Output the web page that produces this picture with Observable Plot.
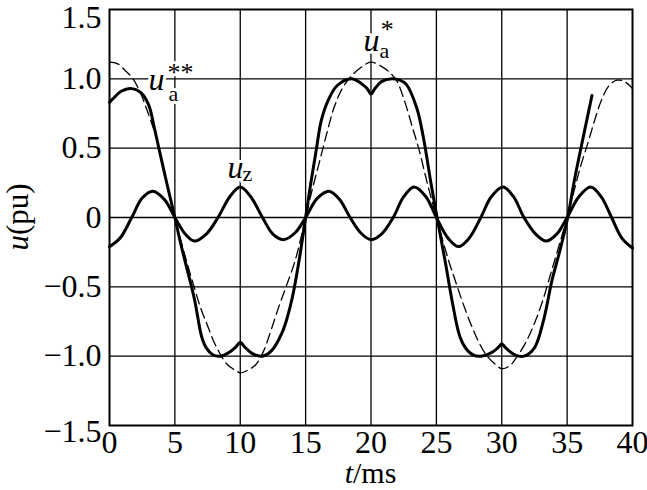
<!DOCTYPE html>
<html><head><meta charset="utf-8">
<script src="https://cdn.jsdelivr.net/npm/d3@7"></script>
<script src="https://cdn.jsdelivr.net/npm/@observablehq/plot@0.6"></script>
<style>body{margin:0;background:#fff}</style>
</head><body><div id="chart"></div>
<script>
// ---- data ----
const xTicks = [0, 5, 10, 15, 20, 25, 30, 35, 40];
const yTicks = [-1.5, -1, -0.5, 0, 0.5, 1, 1.5];
const yTickLabels = ["−1.5", "−1.0", "−0.5", "0", "0.5", "1.0", "1.5"];

// u_a** (solid, thick)
const tA2 = [0, 0.3, 0.9, 1.6, 2.4, 3.0, 3.4, 3.8, 4.4, 5.0, 5.4, 5.9, 6.5, 7.05, 7.4, 7.9, 8.5, 9.2, 9.7, 10.0, 10.3, 10.9, 11.7, 12.4, 13.2, 13.6, 14.0, 14.5, 15.0, 15.4, 15.8, 16.2, 16.7, 17.4, 18.5, 19.2, 19.7, 20.0, 20.3, 20.8, 21.6, 22.2, 22.7, 23.5, 24.0, 24.6, 25.05, 25.7, 26.2, 26.8, 27.3, 27.8, 28.4, 29.3, 29.8, 30.0, 30.3, 31.0, 31.7, 32.5, 33.2, 33.85, 34.5, 35.0, 35.6, 36.3, 36.9];
const uA2 = [0.83, 0.86, 0.91, 0.93, 0.90, 0.81, 0.66, 0.49, 0.24, 0.0, -0.17, -0.36, -0.59, -0.86, -0.94, -0.99, -1.0, -0.97, -0.93, -0.90, -0.93, -0.98, -1.0, -0.96, -0.83, -0.72, -0.57, -0.31, 0.0, 0.25, 0.48, 0.70, 0.84, 0.95, 1.0, 0.97, 0.93, 0.89, 0.93, 0.98, 1.0, 0.99, 0.96, 0.79, 0.58, 0.24, 0.0, -0.33, -0.60, -0.86, -0.95, -0.99, -1.0, -0.97, -0.93, -0.91, -0.94, -0.99, -1.0, -0.94, -0.74, -0.45, -0.22, -0.02, 0.29, 0.61, 0.88];

// u_a* (dashed, thin)
const tA1 = [0, 0.6, 1.2, 1.8, 2.4, 3.0, 3.5, 4.0, 4.5, 5.0, 5.5, 6.0, 6.5, 7.0, 7.5, 8.0, 8.5, 9.0, 9.6, 10.0, 10.6, 11.2, 11.8, 12.4, 13.0, 13.5, 14.2, 15.0, 15.5, 16.0, 16.6, 17.2, 17.8, 18.4, 19.2, 20.0, 20.8, 21.5, 22.0, 22.6, 23.2, 23.7, 24.3, 25.0, 25.5, 26.0, 26.5, 27.0, 27.6, 28.2, 28.8, 29.4, 30.0, 30.6, 31.2, 31.9, 32.6, 33.2, 33.7, 34.2, 35.0, 35.5, 36.0, 36.6, 37.1, 37.6, 38.2, 38.8, 39.4, 40.0];
const uA1 = [1.12, 1.11, 1.06, 1.0, 0.89, 0.74, 0.60, 0.41, 0.20, 0.0, -0.18, -0.35, -0.51, -0.66, -0.78, -0.90, -0.99, -1.06, -1.10, -1.12, -1.10, -1.06, -0.96, -0.80, -0.63, -0.50, -0.31, 0.0, 0.20, 0.38, 0.60, 0.80, 0.93, 1.01, 1.08, 1.12, 1.09, 1.04, 0.98, 0.83, 0.64, 0.48, 0.25, 0.0, -0.17, -0.33, -0.47, -0.61, -0.76, -0.89, -0.99, -1.05, -1.09, -1.07, -1.00, -0.89, -0.74, -0.58, -0.42, -0.26, 0.0, 0.18, 0.36, 0.54, 0.70, 0.84, 0.95, 0.99, 0.98, 0.93];

// u_z (solid, thick)
const tZ = [0, 0.8, 1.7, 2.5, 3.3, 4.2, 5.0, 5.8, 6.5, 7.4, 8.3, 9.2, 10.0, 10.8, 11.7, 12.5, 13.3, 14.2, 15.0, 15.9, 16.8, 17.6, 18.4, 19.2, 20.0, 20.8, 21.7, 22.5, 23.3, 24.2, 25.0, 25.9, 26.7, 27.5, 28.4, 29.2, 30.1, 30.9, 31.7, 32.6, 33.4, 34.2, 35.0, 35.9, 36.8, 37.6, 38.4, 39.2, 40.0];
const uZ = [-0.21, -0.15, 0.0, 0.14, 0.19, 0.13, 0.0, -0.12, -0.17, -0.12, 0.0, 0.15, 0.22, 0.15, 0.0, -0.12, -0.16, -0.11, 0.0, 0.14, 0.19, 0.13, 0.0, -0.11, -0.16, -0.12, 0.0, 0.15, 0.22, 0.15, 0.0, -0.15, -0.21, -0.15, 0.0, 0.15, 0.22, 0.15, 0.0, -0.12, -0.17, -0.12, 0.0, 0.15, 0.22, 0.15, 0.0, -0.15, -0.22];

// curve labels (anchor in data units)
const labelMain = [{t: 2.98, v: 0.916, s: "u"}, {t: 19.43, v: 1.204, s: "u"}, {t: 9.02, v: 0.288, s: "u"}];
const labelSub  = [{t: 4.51, v: 0.84, s: "a"}, {t: 20.65, v: 1.15, s: "a"}, {t: 10.17, v: 0.262, s: "z"}];
const labelSup  = [{t: 4.44, v: 0.985, s: "**"}, {t: 20.75, v: 1.295, s: "*"}];

// ---- build tables ----
const ua2 = tA2.map((t, i) => ({t, v: uA2[i]}));
const ua1 = tA1.map((t, i) => ({t, v: uA1[i]}));
const uz  = tZ.map((t, i) => ({t, v: uZ[i]}));

const FONT = "'Liberation Serif', 'Times New Roman', serif";
const halo = {stroke: "white", strokeWidth: 6, paintOrder: "stroke", fill: "black", textAnchor: "start", lineAnchor: "bottom", fontFamily: FONT};
const fmtY = d => yTickLabels[yTicks.indexOf(d)];
const yAxisCommon = {tickSize: 0, tickPadding: 8, tickFormat: fmtY, label: null, fontSize: 32};

const plot = Plot.plot({
  width: 647,
  height: 490,
  marginLeft: 109,
  marginRight: 15,
  marginTop: 9,
  marginBottom: 65,
  style: {fontFamily: FONT, fontSize: "32px", color: "black", background: "white"},
  x: {domain: [0, 40]},
  y: {domain: [-1.5, 1.5]},
  marks: [
    Plot.gridX(xTicks.slice(1, -1), {stroke: "black", strokeOpacity: 1, strokeWidth: 1.3}),
    Plot.gridY(yTicks.slice(1, -1), {stroke: "black", strokeOpacity: 1, strokeWidth: 1.3}),
    Plot.axisX({ticks: xTicks, tickSize: 0, tickPadding: 5, tickFormat: d => String(d), label: null, fontSize: 32}),
    Plot.axisY({...yAxisCommon, ticks: yTicks.slice(1, -1)}),
    Plot.axisY({...yAxisCommon, ticks: [yTicks[yTicks.length - 1]], dy: 8}),
    Plot.axisY({...yAxisCommon, ticks: [yTicks[0]], dy: 6}),
    Plot.line(ua1, {x: "t", y: "v", stroke: "black", strokeWidth: 1.3, strokeDasharray: "10,5", curve: "catmull-rom"}),
    Plot.text(labelMain, {...halo, x: "t", y: "v", text: "s", fontSize: 32, fontStyle: "italic"}),
    Plot.text(labelSub, {...halo, x: "t", y: "v", text: "s", fontSize: 22}),
    Plot.text(labelSup, {...halo, x: "t", y: "v", text: "s", fontSize: 26}),
    Plot.line(uz, {x: "t", y: "v", stroke: "black", strokeWidth: 3, curve: "catmull-rom"}),
    Plot.line(ua2, {x: "t", y: "v", stroke: "black", strokeWidth: 3, curve: "catmull-rom"}),
    Plot.frame({stroke: "black", strokeWidth: 2})
  ]
});

const svg = d3.select(plot);
// x-axis title: t/ms
const xt = svg.append("text")
  .attr("x", (109 + 632) / 2).attr("y", 483)
  .attr("text-anchor", "middle").attr("font-family", FONT).attr("font-size", 30).attr("fill", "black");
xt.append("tspan").attr("font-style", "italic").text("t");
xt.append("tspan").text("/ms");
// y-axis title: u(pu)
const yt = svg.append("text")
  .attr("transform", "translate(28,217) rotate(-90)")
  .attr("text-anchor", "middle").attr("font-family", FONT).attr("font-size", 31).attr("fill", "black");
yt.append("tspan").attr("font-style", "italic").text("u");
yt.append("tspan").text("(pu)");

document.getElementById("chart").appendChild(plot);
</script></body></html>
